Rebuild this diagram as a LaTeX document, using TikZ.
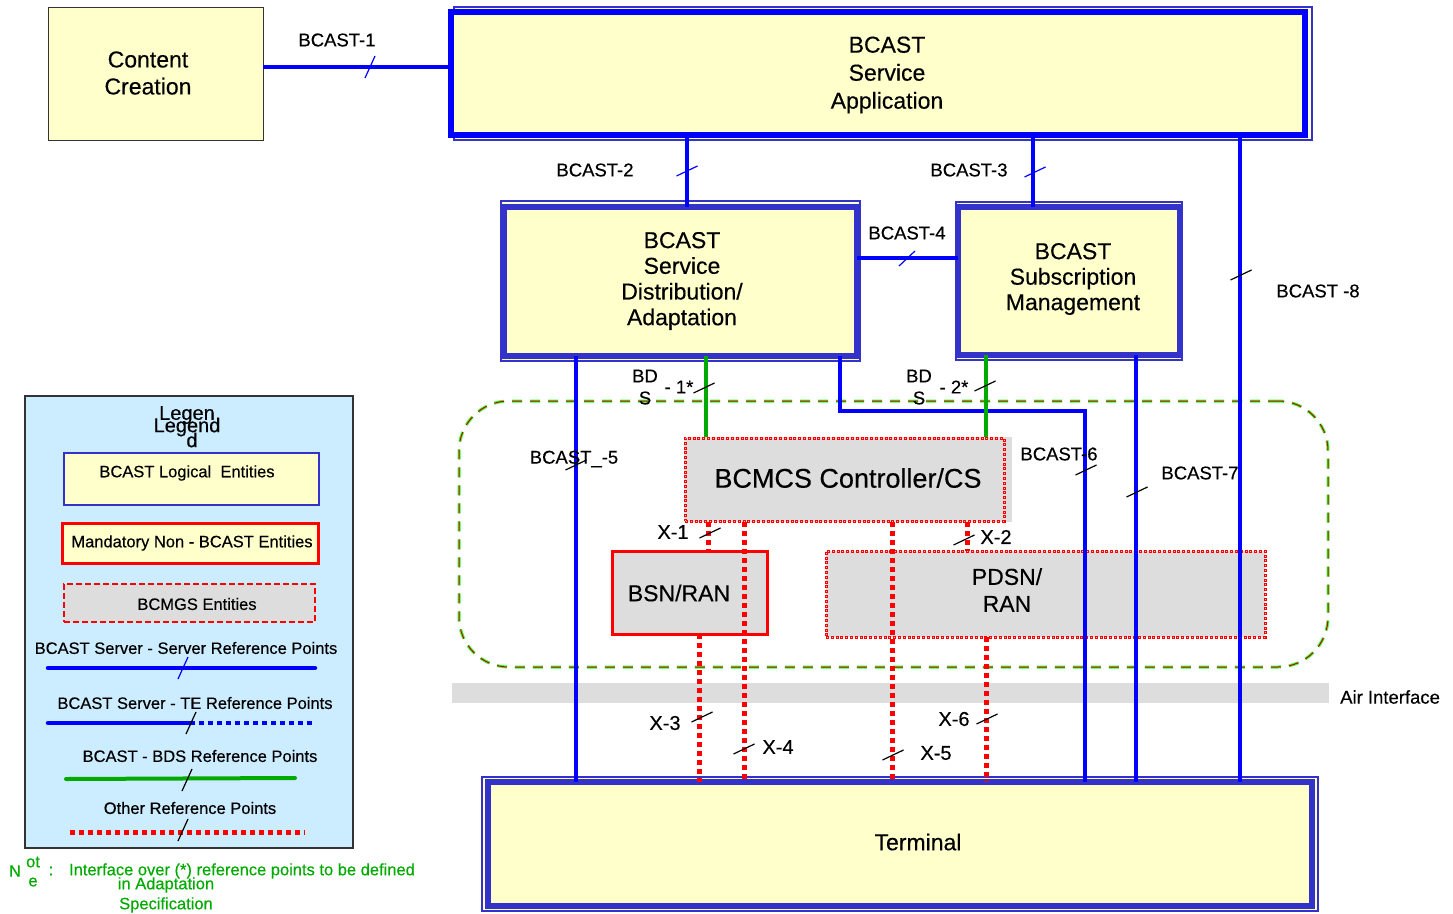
\documentclass[tikz,border=0pt]{standalone}
\usepackage{fontspec}
\setmainfont{Liberation Sans}[FakeBold=0.35]
\usetikzlibrary{calc}
\definecolor{byellow}{HTML}{FFFFCC}
\definecolor{bblue}{HTML}{0000FF}
\definecolor{bbord}{HTML}{3333CC}
\definecolor{bgray}{HTML}{DDDDDD}
\definecolor{bred}{HTML}{FF0000}
\definecolor{bgreen}{HTML}{00AA00}
\definecolor{lgreen}{HTML}{33FF33}
\definecolor{legbg}{HTML}{CCECFF}
\definecolor{notegreen}{HTML}{00AA00}
\newcommand\tkv[2][black]{\draw[#1, line width=1.2pt] ($(#2)+(-10.5,5)$) -- ($(#2)+(10.5,-5)$);}
\newcommand\tkh[2][black]{\draw[#1, line width=1.2pt] ($(#2)+(-5,11)$) -- ($(#2)+(5,-11)$);}
\tikzset{
  sq/.style={anchor=north west, inner sep=0pt, outer sep=0pt},
  mainbox/.style={sq, fill=byellow, draw=bbord, line width=5.5pt},
  outerbox/.style={sq, fill=byellow, draw=bbord, line width=1.5pt},
  graybox/.style={sq, fill=bgray},
  reddots/.style={sq, draw=bred, line width=3pt, dash pattern=on 3pt off 1.8pt},
  redin/.style={sq, draw=white!75!red, line width=1pt, dash pattern=on 1pt off 3.8pt, dash phase=3.8pt},
  maintxt/.style={align=center, font=\fontsize{23}{27}\selectfont, inner sep=0pt},
  lab/.style={font=\fontsize{18.5}{22}\selectfont, inner sep=0pt},
  xlab/.style={font=\fontsize{20}{24}\selectfont, inner sep=0pt},
  legtxt/.style={font=\fontsize{16.5}{20}\selectfont, inner sep=0pt},
  notetxt/.style={font=\fontsize{16.5}{20}\selectfont, inner sep=0pt, text=notegreen},
  bline/.style={draw=bblue, line width=4.5pt},
  gline/.style={draw=bgreen, line width=4pt},
  rline/.style={draw=bred, line width=5pt, dash pattern=on 5pt off 4pt},
}
\begin{document}
\begin{tikzpicture}[x=1pt,y=-1pt]
\useasboundingbox (0,0) rectangle (1453,913);

% ---------- BCMCS area and air interface ----------
\node[sq, draw=lgreen, line width=3pt, rounded corners=50pt, dash pattern=on 10pt off 8pt,
      minimum width=869pt, minimum height=266pt] (area) at (459,401) {};
\node[sq, draw=bred!80!black, line width=1pt, rounded corners=50pt, dash pattern=on 10pt off 8pt,
      minimum width=869pt, minimum height=266pt] (areain) at (459,401) {};
\node[graybox, minimum width=877pt, minimum height=20pt] (air) at (452,683) {};
\node[lab, anchor=west] (airlab) at (1340,697) {Air Interface};

% ---------- gray entities ----------
\node[graybox, minimum width=328pt, minimum height=85pt] (bcmcs) at (684,437) {};
\node[reddots, minimum width=319pt, minimum height=83pt] (bcmcsb) at (685,438) {};
\node[redin, minimum width=319pt, minimum height=83pt] (bcmcsi) at (685,438) {};
\node[font=\fontsize{27}{32}\selectfont, inner sep=0pt] (bcmcst) at (848,478) {BCMCS Controller/CS};

\node[graybox, draw=bred, line width=3pt, minimum width=155pt, minimum height=83pt] (bsn) at (612,551) {};
\node[maintxt] (bsnt) at (679,593) {BSN/RAN};

\node[graybox, minimum width=439pt, minimum height=86pt] (pdsn) at (826,551) {};
\node[reddots, minimum width=439pt, minimum height=86pt] (pdsnb) at (826,551) {};
\node[redin, minimum width=439pt, minimum height=86pt] (pdsni) at (826,551) {};
\node[maintxt] (pdsnt) at (1007,590) {PDSN/\\RAN};

% ---------- main yellow boxes ----------
\node[sq, fill=byellow, draw=black!80, line width=1pt, minimum width=215pt, minimum height=133pt] (cc) at (48,7) {};
\node[maintxt] (cct) at (148,73) {Content\\Creation};

\node[outerbox, minimum width=858pt, minimum height=133pt] (sao) at (454,7) {};
\node[mainbox, draw=bblue, minimum width=854pt, minimum height=123pt] (sa) at (451,12) {};
\node[maintxt, font=\fontsize{23}{28}\selectfont] (sat) at (887,75) {BCAST\\Service\\Application};

\node[outerbox, minimum width=359pt, minimum height=160pt] (sdo) at (501,201) {};
\node[mainbox, minimum width=353pt, minimum height=149pt] (sd) at (504,207) {};
\node[maintxt, font=\fontsize{23}{25.7}\selectfont] (sdt) at (682,281) {BCAST\\Service\\Distribution/\\Adaptation};

\node[outerbox, minimum width=226pt, minimum height=158pt] (smo) at (956,202) {};
\node[mainbox, minimum width=222pt, minimum height=148pt] (sm) at (958,207) {};
\node[maintxt, font=\fontsize{23}{25.5}\selectfont] (smt) at (1073,279) {BCAST\\Subscription\\Management};

\node[outerbox, minimum width=836pt, minimum height=134pt] (teo) at (482,777) {};
\node[mainbox, minimum width=824pt, minimum height=124pt] (te) at (488,782) {};
\node[maintxt] (tet) at (918,842) {Terminal};

% ---------- helper coordinates ----------
\coordinate (c1) at (370,67);
\coordinate (c2) at (687,171);
\coordinate (c3) at (1033,172);
\coordinate (c4) at (907,258);
\coordinate (c8) at (1240,275);
\coordinate (c5) at (576,465);
\coordinate (c6a) at (840,411);
\coordinate (c6) at (1085,470);
\coordinate (c7) at (1136,492);
\coordinate (cb1) at (706,388);
\coordinate (cb2) at (986,388);
\coordinate (cx1) at (708,533);
\coordinate (cx2) at (967,540);
\coordinate (cx3) at (699,717);
\coordinate (cx4) at (744,749);
\coordinate (cx5) at (892,755);
\coordinate (cx6) at (986,719);

% ---------- connectors ----------
\draw[bline] (cc.east |- c1) -- (sa.west |- c1);
\draw[bline] (sa.south -| c2) -- (sd.north -| c2);
\draw[bline] (sa.south -| c3) -- (sm.north -| c3);
\draw[bline] (sd.east |- c4) -- (sm.west |- c4);
\draw[bline] (sa.south -| c8) -- (te.north -| c8);
\draw[bline] (sd.south -| c5) -- (te.north -| c5);
\draw[bline] (sd.south -| c6a) -- (c6a) -- (c6a -| c6) -- (te.north -| c6);
\draw[bline] (sm.south -| c7) -- (te.north -| c7);
\draw[gline] (sd.south -| cb1) -- (bcmcs.north -| cb1);
\draw[gline] (sm.south -| cb2) -- (bcmcs.north -| cb2);
\draw[rline] (bcmcs.south -| cx1) -- (bsn.north -| cx1);
\draw[rline] (bcmcs.south -| cx4) -- (te.north -| cx4);
\draw[rline] (bcmcs.south -| cx5) -- (te.north -| cx5);
\draw[rline] (bcmcs.south -| cx2) -- (pdsn.north -| cx2);
\draw[rline] (bsn.south -| cx3) -- (te.north -| cx3);
\draw[rline] (pdsn.south -| cx6) -- (te.north -| cx6);

% ---------- ticks ----------
\tkh[bblue]{c1}
\tkv[bblue]{c2}
\tkv[bblue]{$(c3)+(2,0)$}
\draw[bblue, line width=1.2pt] ($(c4)+(-8,8)$) -- ($(c4)+(8,-7)$);
\tkv{$(c8)+(1,0)$}
\tkv{c5}
\tkv{$(c6)+(1,0)$}
\tkv{$(c7)+(1,0)$}
\tkv{$(cb1)+(-2,0)$}
\tkv{$(cb2)+(-1,-2)$}
\tkv{$(cx1)+(2,0)$}
\tkv{$(cx2)+(-3,0)$}
\tkv{$(cx3)+(3,0)$}
\tkv{cx4}
\tkv{$(cx5)+(1,0)$}
\tkv{$(cx6)+(1,0)$}

% ---------- labels ----------
\node[lab] (l1) at (337,40) {BCAST-1};
\node[lab] (l2) at (595,170) {BCAST-2};
\node[lab] (l3) at (969,170) {BCAST-3};
\node[lab] (l4) at (907,233) {BCAST-4};
\node[lab] (l8) at (1318,291) {BCAST -8};
\node[lab] (l5) at (574,459) {BCAST\_-5};
\node[lab] (l6) at (1059,454) {BCAST-6};
\node[lab] (l7) at (1200,473) {BCAST-7};
\node[lab] (bd1a) at (645,376) {BD};
\node[lab] (bd1b) at (645,398) {S};
\node[lab] (bd1c) at (679,387) {- 1*};
\node[lab] (bd2a) at (919,376) {BD};
\node[lab] (bd2b) at (919,398) {S};
\node[lab] (bd2c) at (954,387) {- 2*};
\node[xlab] (x1) at (673,532) {X-1};
\node[xlab] (x2) at (996,537) {X-2};
\node[xlab] (x3) at (665,723) {X-3};
\node[xlab] (x4) at (778,747) {X-4};
\node[xlab] (x5) at (936,753) {X-5};
\node[xlab] (x6) at (954,719) {X-6};

% ---------- legend ----------
\node[sq, fill=legbg, draw=black!80, line width=1.2pt, minimum width=328pt, minimum height=452pt] (leg) at (25,396) {};
\node[font=\fontsize{20}{24}\selectfont, inner sep=0pt] (lega) at (187,415) {Legen};
\node[font=\fontsize{20}{24}\selectfont, inner sep=0pt] (legb) at (192,440) {d};
\node[font=\fontsize{20}{24}\selectfont, inner sep=0pt] (legc) at (187,427) {Legend};
\node[sq, fill=byellow, draw=bbord, line width=1.5pt, minimum width=255pt, minimum height=52pt] (lg1) at (64,453) {};
\node[legtxt] (lg1t) at (187,473) {BCAST Logical\ \ Entities};
\node[sq, fill=byellow, draw=bred, line width=3pt, minimum width=256pt, minimum height=40pt] (lg2) at (62,523) {};
\node[legtxt] (lg2t) at (192,543) {Mandatory Non - BCAST Entities};
\node[sq, fill=bgray, draw=bred, line width=1.5pt, dash pattern=on 6pt off 3pt, minimum width=251pt, minimum height=38pt] (lg3) at (64,584) {};
\node[legtxt] (lg3t) at (197,604) {BCMGS Entities};
\node[legtxt] (lg4t) at (186,648) {BCAST Server - Server Reference Points};
\node[legtxt] (lg5t) at (195,703) {BCAST Server - TE Reference Points};
\node[legtxt] (lg6t) at (200,756) {BCAST - BDS Reference Points};
\node[legtxt] (lg7t) at (190,808) {Other Reference Points};
\coordinate (la1) at (48,668); \coordinate (lb1) at (315,668); \coordinate (lt1) at (183,668);
\coordinate (la2) at (48,723); \coordinate (lm2) at (190,723); \coordinate (lb2) at (315,723); \coordinate (lt2) at (191,723);
\coordinate (la3) at (66,779); \coordinate (lb3) at (295,778); \coordinate (lt3) at (187,780);
\coordinate (la4) at (70,832); \coordinate (lb4) at (305,832); \coordinate (lt4) at (183,830);
\draw[bline, line cap=round] (la1) -- (lb1);
\draw[bline, line cap=round] (la2) -- (lm2);
\draw[bblue, line width=4.5pt, dash pattern=on 5pt off 4pt] (lm2) -- (lb2);
\draw[gline, line cap=round] (la3) -- (lb3);
\draw[rline] (la4) -- (lb4);
\tkh[bblue]{lt1}
\tkh{lt2}
\tkh{lt3}
\tkh{lt4}

% ---------- note ----------
\node[notetxt] (n1) at (15,871) {N};
\node[notetxt] (n2) at (33,862) {ot};
\node[notetxt] (n3) at (33,882) {e};
\node[notetxt] (n4) at (51,871) {:};
\node[notetxt] (n5) at (242,871) {Interface over (*) reference points to be defined};
\node[notetxt] (n6) at (166,885) {in Adaptation};
\node[notetxt] (n7) at (166,905) {Specification};
\end{tikzpicture}
\end{document}
